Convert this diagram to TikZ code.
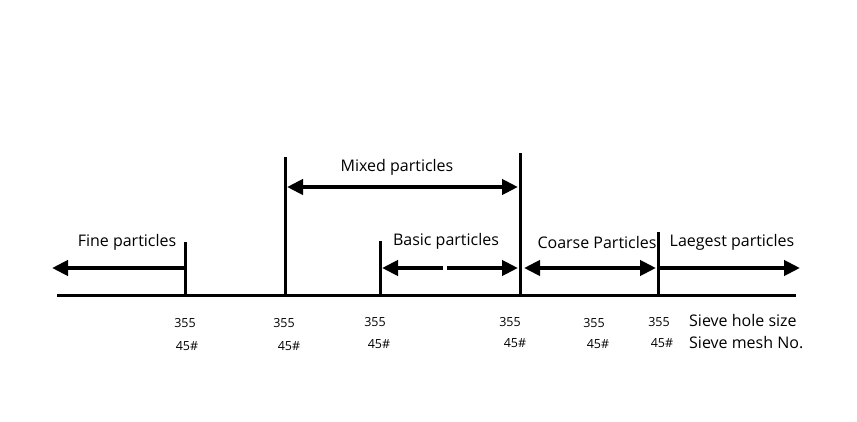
\documentclass[tikz,border=0pt]{standalone}
\usepackage{fontspec}
\setmainfont{Open Sans}
\usetikzlibrary{arrows.meta}

\begin{document}
\begin{tikzpicture}[x=1pt, y=-1pt]
\tikzstyle{every node}=[inner sep=0pt, font=\fontsize{16}{18}\selectfont];
\tikzstyle{sieveline}=[line width=3pt];
\tikzstyle{bigarrow}=[line width=4pt, -{Triangle[length=16pt,width=15pt]}];
\tikzstyle{bothways}=[line width=4pt, {Triangle[length=16pt,width=15pt]}-{Triangle[length=16pt,width=15pt]}];
\tikzstyle{num}=[font=\fontsize{12.5}{14}\selectfont];
\useasboundingbox (0,0) rectangle (857,422);
% axis
\coordinate (a0) at (57, 295);
\coordinate (a1) at (796, 295);
\draw[sieveline] (a0) -- (a1);
% sieve positions
\coordinate (s1) at (185, 295);
\coordinate (s2) at (285, 295);
\coordinate (s3) at (380, 295);
\coordinate (s4) at (520, 295);
\coordinate (s5) at (658, 295);
\coordinate (s1t) at (185, 242);
\coordinate (s2t) at (285, 157);
\coordinate (s3t) at (380, 241);
\coordinate (s4t) at (520, 153);
\coordinate (s5t) at (658, 232);
\draw[sieveline] (s1) -- (s1t)
(s2) -- (s2t)
(s3) -- (s3t)
(s4) -- (s4t)
(s5) -- (s5t);
% arrow ends
\coordinate (f0) at (184, 268);
\coordinate (f1) at (52, 268);
\coordinate (m0) at (287, 187);
\coordinate (m1) at (518, 187);
\coordinate (b0) at (443, 268);
\coordinate (b1) at (382, 268);
\coordinate (b2) at (447, 268);
\coordinate (b3) at (518, 268);
\coordinate (c0) at (524, 268);
\coordinate (c1) at (656, 268);
\coordinate (l0) at (660, 268);
\coordinate (l1) at (800, 268);
\draw[bigarrow] (f0) -- (f1);
\draw[bothways] (m0) -- (m1);
\draw[bigarrow] (b0) -- (b1);
\draw[bigarrow] (b2) -- (b3);
\draw[bothways] (c0) -- (c1);
\draw[bigarrow] (l0) -- (l1);
% labels
\node (fine) at (127, 242) {Fine particles};
\node (mixed) at (397, 167) {Mixed particles};
\node (basic) at (446, 241) {Basic particles};
\node (coarse) at (597, 242) {Coarse Particles};
\node (large) at (732, 242) {Laegest particles};
% sieve numbers
\node[num] (h1) at (185, 323) {355};
\node[num] (h2) at (284, 323) {355};
\node[num] (h3) at (375, 322) {355};
\node[num] (h4) at (510, 322) {355};
\node[num] (h5) at (594, 323) {355};
\node[num] (h6) at (659, 322) {355};
\node[num] (n1) at (187, 346) {45\#};
\node[num] (n2) at (289, 346) {45\#};
\node[num] (n3) at (379, 344) {45\#};
\node[num] (n4) at (515, 343) {45\#};
\node[num] (n5) at (598, 344) {45\#};
\node[num] (n6) at (662, 343) {45\#};
\node[anchor=west] (holesize) at (689, 320) {Sieve hole size};
\node[anchor=west] (meshno) at (689, 343) {Sieve mesh No.};
\end{tikzpicture}
\end{document}
